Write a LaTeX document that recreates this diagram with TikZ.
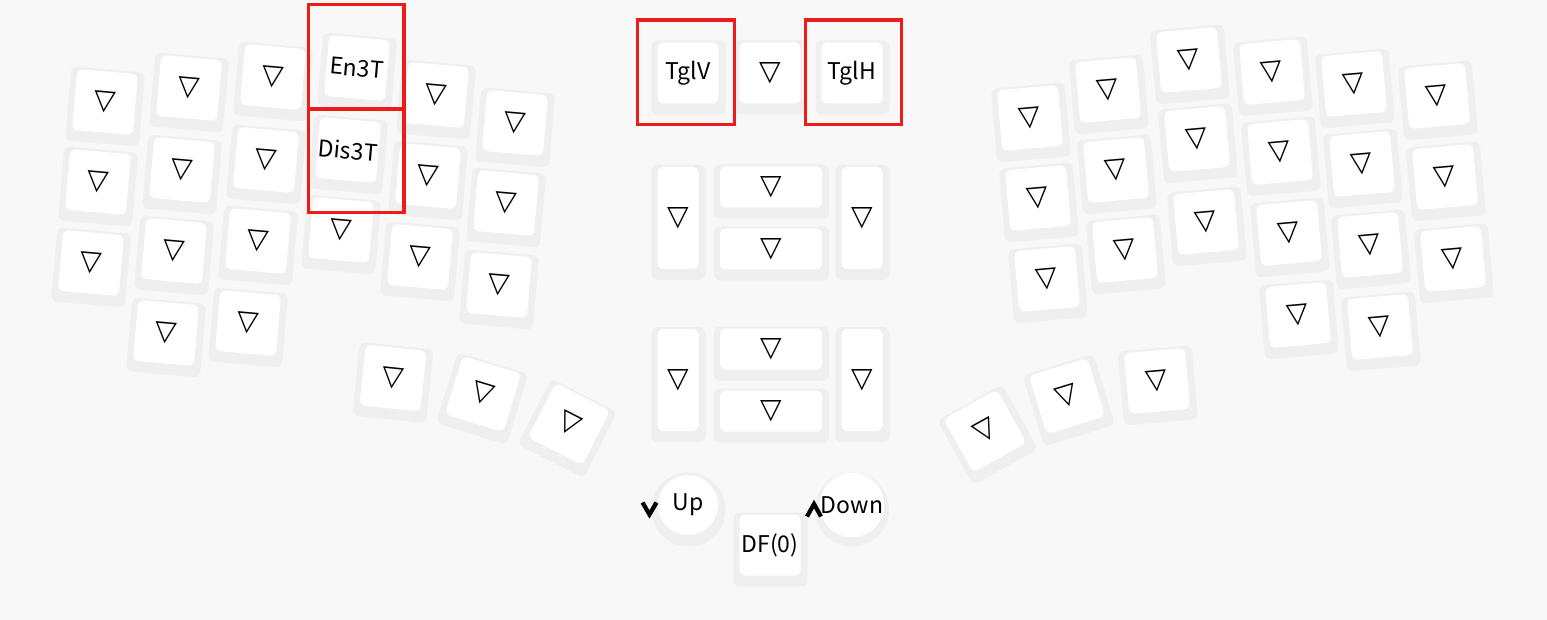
\documentclass[tikz,border=0pt]{standalone}
\usepackage{fontspec}
\setmainfont{Noto Sans CJK JP}
\newfontfamily\symfont{DejaVu Sans}

\definecolor{bgcol}{HTML}{F8F8F8}
\definecolor{capcol}{HTML}{EFEFEF}
\definecolor{hlred}{HTML}{EE1B1B}

% transparent legend
\newcommand{\tri}{{\symfont\bfseries\fontsize{28}{28}\selectfont ▽}}

% name, x, y, angle, width, height, legend
\newcommand{\keycap}[7]{%
  \begin{scope}[shift={(#2,#3)},rotate=#4,transform shape]
    \node[capbase,minimum width=#5pt,minimum height=#6pt] (#1-b) at (0.5,4.5) {};
    \node[captop,minimum width=#5pt-13pt,minimum height=#6pt-13pt] (#1) at (0,0) {#7};
  \end{scope}}

\tikzset{
  capbase/.style = {fill=capcol, rounded corners=6pt, inner sep=0pt},
  captop/.style = {fill=white, rounded corners=6pt, inner sep=0pt,
    font=\fontsize{23}{23}\selectfont},
  encbase/.style = {circle, fill=capcol, minimum size=74pt, inner sep=0pt},
  enctop/.style = {circle, fill=white, minimum size=60pt, inner sep=0pt,
    font=\fontsize{23}{23}\selectfont},
  chev/.style = {line width=4.2pt, miter limit=10},
  hilite/.style = {draw=hlred, line width=3.2pt}
}

\begin{document}
\begin{tikzpicture}[x=1pt, y=-1pt]
\fill[bgcol] (0,0) rectangle (1547,620);
\useasboundingbox (0,0) rectangle (1547,620);

% left half
\foreach \c/\x/\y in {1/105/102, 2/189/88, 3/273/77, 5/436/95, 6/515/123}
  {\keycap{l1\c}{\x}{\y}{-5}{74}{74}{\tri}}
\keycap{en3t}{357}{68}{-5}{74}{74}{En3T}
\foreach \c/\x/\y in {1/98/182, 2/182/170, 3/266/160, 5/428/176, 6/506/203}
  {\keycap{l2\c}{\x}{\y}{-5}{74}{74}{\tri}}
\keycap{dis3t}{348}{150}{-5}{74}{74}{Dis3T}
\foreach \c/\x/\y in {1/91/263, 2/174/251, 3/258/241, 4/341/230, 5/420/257, 6/499/285}
  {\keycap{l3\c}{\x}{\y}{-5}{74}{74}{\tri}}
\foreach \c/\x/\y in {2/166/333, 3/248/323}
  {\keycap{l4\c}{\x}{\y}{-5}{74}{74}{\tri}}
\foreach \c/\x/\y/\a in {1/393/378/-6, 2/483/394/-17, 3/569/424/-27}
  {\keycap{lt\c}{\x}{\y}{\a}{74}{74}{\tri}}

% right half
\foreach \c/\x/\y in {1/1030/118, 2/1108/90, 3/1189/60, 4/1272/72, 5/1354/84, 6/1437/96}
  {\keycap{r1\c}{\x}{\y}{5}{74}{74}{\tri}}
\foreach \c/\x/\y in {1/1038/198, 2/1116/170, 3/1197/139, 4/1280/152, 5/1362/164, 6/1445/177}
  {\keycap{r2\c}{\x}{\y}{5}{74}{74}{\tri}}
\foreach \c/\x/\y in {1/1047/279, 2/1125/250, 3/1206/222, 4/1289/233, 5/1370/245, 6/1453/259}
  {\keycap{r3\c}{\x}{\y}{5}{74}{74}{\tri}}
\foreach \c/\x/\y in {4/1298/315, 5/1380/327}
  {\keycap{r4\c}{\x}{\y}{5}{74}{74}{\tri}}
\foreach \c/\x/\y/\a in {1/985/431/29, 2/1067/396/17, 3/1157/381/5}
  {\keycap{rt\c}{\x}{\y}{\a}{74}{74}{\tri}}

% middle
\keycap{tglv}{688}{73}{0}{74}{74}{TglV}
\keycap{mid}{770}{73}{0}{74}{74}{\tri}
\keycap{tglh}{852}{73}{0}{74}{74}{TglH}
\foreach \n/\y in {a/0, b/162} {
  \keycap{\n1}{678}{218+\y}{0}{54}{115}{\tri}
  \keycap{\n2}{771}{187+\y}{0}{115}{54}{\tri}
  \keycap{\n3}{771}{249+\y}{0}{115}{54}{\tri}
  \keycap{\n4}{862}{218+\y}{0}{54}{115}{\tri}
}
\keycap{df}{770}{545}{0}{74}{74}{DF(0)}

% encoders
\node[encbase] (upb) at (688.5,509.5) {};
\node[enctop] (up) at (688,505) {Up};
\node[encbase] (downb) at (852,509.5) {};
\node[enctop] (down) at (852,505) {Down};
\draw[chev] (642.5,502.5) -- (649.5,514.5) -- (656.5,502.5);
\draw[chev] (807,516.5) -- (814,504) -- (821,516.5);

% highlights
\draw[hilite] (308.7,4.7) rectangle (404,109);
\draw[hilite] (308.7,109) rectangle (404,212.3);
\draw[hilite] (637.5,20) rectangle (734.5,124.5);
\draw[hilite] (805.5,20) rectangle (901.7,124.5);
\end{tikzpicture}
\end{document}
